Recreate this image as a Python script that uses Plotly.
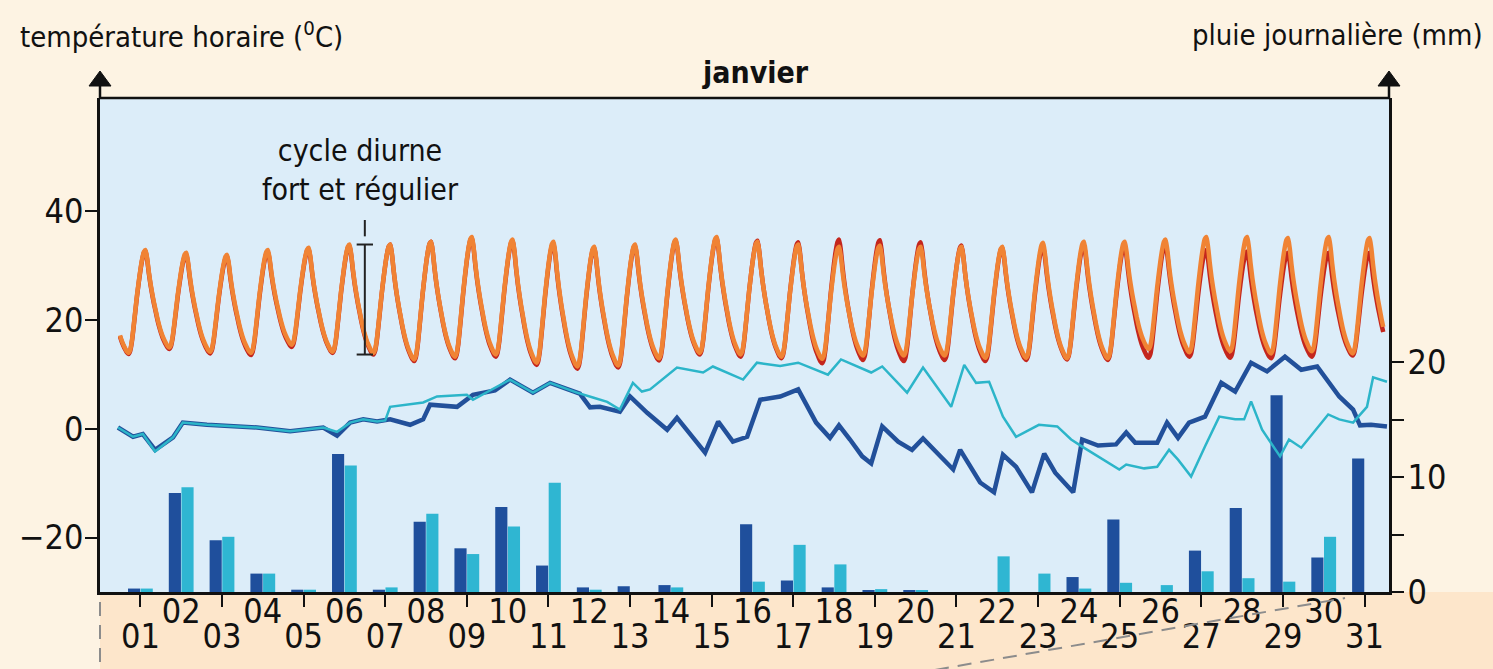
import plotly.graph_objects as go

# ---------------- data ----------------
days = list(range(1, 32))
day_labels = [f"{d:02d}" for d in days]

# daily extremes of the hourly temperature (°C), two stations
tmax_orange = [32.8, 32.3, 31.9, 32.8, 33.2, 33.8, 33.8, 34.3, 35.2, 34.7, 34.3, 33.4, 33.8, 34.7, 35.2, 34.3,
               33.8, 33.4, 33.6, 33.4, 33.4, 33.4, 34.1, 34.3, 34.3, 34.7, 35.2, 35.2, 35.0, 35.2, 35.0]
tmin_orange = [13.9, 14.9, 14.1, 13.9, 15.4, 14.1, 13.9, 12.7, 13.2, 13.6, 12.1, 11.4, 11.6, 12.9, 13.9, 13.6,
               13.2, 12.8, 13.4, 13.4, 13.4, 13.0, 13.0, 12.9, 12.9, 14.6, 14.0, 14.2, 13.8, 14.2, 13.8]
tmax_red = [32.6, 32.0, 31.6, 32.5, 33.0, 33.6, 33.8, 34.3, 35.0, 34.5, 34.0, 33.2, 33.6, 34.5, 35.0, 34.5,
            34.2, 34.7, 34.6, 34.2, 33.6, 33.2, 33.4, 33.6, 33.5, 33.8, 32.8, 32.5, 32.3, 32.3, 32.3]
tmin_red = [13.7, 14.6, 13.8, 13.5, 15.0, 13.9, 13.6, 12.4, 12.9, 13.2, 11.7, 11.0, 11.2, 12.5, 13.6, 13.2,
            12.9, 12.0, 12.6, 12.4, 12.6, 12.4, 12.6, 12.7, 12.6, 13.0, 13.2, 13.0, 12.9, 13.2, 13.4]
# typical shape of one diurnal cycle (fraction of daily range, hour 0..23)
diurnal_profile = [0.17, 0.12, 0.08, 0.045, 0.015, 0.0, 0.03, 0.12, 0.26, 0.41, 0.56, 0.69,
                   0.81, 0.91, 0.98, 1.0, 0.91, 0.77, 0.65, 0.55, 0.46, 0.38, 0.30, 0.23]
TROUGH_H, PEAK_H = 5, 15

# second pair of temperature records: (time in days since 1 Jan 00h, °C)
dark_blue_points = [
    (-0.05, 0.2), (0.32, -1.5), (0.56, -1.0), (0.86, -3.9), (1.30, -1.6), (1.54, 1.1), (2.13, 0.7),
    (3.36, 0.2), (4.17, -0.5), (4.98, 0.2), (5.32, -1.3), (5.64, 1.1), (5.96, 1.7), (6.30, 1.3),
    (6.62, 1.7), (7.11, 0.7), (7.43, 1.7), (7.60, 4.4), (8.26, 4.0), (8.65, 6.2), (9.19, 7.0),
    (9.56, 9.0), (10.12, 6.6), (10.54, 8.4), (11.27, 6.4), (11.52, 3.9), (11.76, 4.0), (12.08, 3.5),
    (12.25, 3.1), (12.50, 5.9), (12.92, 2.9), (13.41, -0.2), (13.65, 2.0), (14.34, -4.4), (14.66, 1.3),
    (15.02, -2.4), (15.37, -1.5), (15.69, 5.3), (16.18, 5.9), (16.62, 7.2), (17.06, 1.1), (17.40, -1.7),
    (17.62, 0.6), (17.89, -2.0), (18.19, -5.1), (18.41, -6.4), (18.68, 0.4), (19.07, -2.4), (19.41, -3.9),
    (19.68, -1.8), (20.42, -7.5), (20.59, -3.9), (21.08, -9.9), (21.42, -11.7), (21.64, -4.8), (21.96, -7.0),
    (22.35, -11.7), (22.65, -4.6), (22.92, -8.1), (23.36, -11.7), (23.58, -2.0), (23.97, -3.1), (24.41, -2.9),
    (24.66, -0.7), (24.88, -2.6), (25.42, -2.6), (25.66, 1.1), (25.93, -1.7), (26.20, 1.1), (26.59, 2.2),
    (26.99, 8.4), (27.33, 6.8), (27.72, 12.1), (28.11, 10.5), (28.55, 13.2), (28.95, 10.8), (29.34, 11.4),
    (29.88, 5.9), (30.22, 3.5), (30.39, 0.6), (30.66, 0.7), (31.05, 0.4)]
cyan_points = [
    (-0.05, 0.2), (0.32, -1.5), (0.56, -1.0), (0.86, -4.2), (1.30, -1.6), (1.54, 1.1), (2.13, 0.7),
    (3.36, 0.2), (4.17, -0.5), (4.98, 0.2), (5.32, -0.6), (5.64, 1.1), (5.96, 1.7), (6.30, 1.3),
    (6.50, 1.5), (6.62, 4.0), (7.43, 4.8), (7.77, 5.9), (8.50, 6.2), (8.65, 5.3), (9.56, 9.0),
    (10.12, 6.6), (10.54, 8.4), (11.20, 6.6), (11.59, 5.7), (11.94, 4.9), (12.25, 3.5), (12.57, 8.4),
    (12.79, 6.8), (12.99, 7.2), (13.65, 11.2), (14.29, 10.3), (14.53, 11.4), (15.27, 9.0), (15.61, 12.1),
    (16.18, 11.5), (16.62, 12.1), (17.35, 9.9), (17.67, 12.7), (18.41, 10.3), (18.68, 11.4), (19.29, 6.6),
    (19.68, 11.2), (20.37, 4.0), (20.69, 11.7), (20.98, 8.4), (21.30, 8.6), (21.64, 2.2), (21.96, -1.5),
    (22.52, 0.7), (22.97, 0.4), (23.31, -2.0), (23.58, -3.3), (24.09, -5.7), (24.49, -7.5), (24.66, -6.6),
    (25.10, -7.3), (25.42, -7.0), (25.71, -3.9), (25.93, -5.7), (26.25, -8.8), (26.59, -3.3), (26.94, 2.2),
    (27.33, 1.7), (27.55, 1.7), (27.72, 5.0), (27.99, -0.2), (28.43, -5.1), (28.65, -2.0), (28.95, -3.5),
    (29.61, 2.6), (29.88, 1.7), (30.22, 1.1), (30.56, 4.0), (30.71, 9.4), (31.05, 8.6)]

# daily rainfall (mm), two stations
rain_dark = [0.3, 8.6, 4.5, 1.6, 0.2, 12.0, 0.2, 6.1, 3.8, 7.4, 2.3, 0.4, 0.5, 0.6, 0.0, 5.9,
             1.0, 0.4, 0.15, 0.15, 0.0, 0.0, 0.0, 1.3, 6.3, 0.0, 3.6, 7.3, 17.1, 3.0, 11.6]
rain_cyan = [0.3, 9.1, 4.8, 1.6, 0.2, 11.0, 0.4, 6.8, 3.3, 5.7, 9.5, 0.2, 0.0, 0.4, 0.0, 0.9,
             4.1, 2.4, 0.25, 0.15, 0.0, 3.1, 1.6, 0.3, 0.8, 0.6, 1.8, 1.2, 0.9, 4.8, 0.0]

left_ticks = [-20, 0, 20, 40]
right_ticks = [0, 10, 20]
right_minor_ticks = [5, 15]

# ---------------- build ----------------
def hourly(tmax, tmin):
    xs, ys = [], []
    n = len(tmax)
    for d in range(n):
        for h, p in enumerate(diurnal_profile):
            if h < TROUGH_H:
                hi = tmax[d - 1] if d > 0 else tmax[d]
                lo = tmin[d]
            elif h <= PEAK_H:
                hi, lo = tmax[d], tmin[d]
            else:
                hi = tmax[d]
                lo = tmin[d + 1] if d + 1 < n else tmin[d]
            xs.append(d + h / 24)
            ys.append(lo + (hi - lo) * p)
    return xs, ys

FONT = "Liberation Sans Narrow, DejaVu Sans Condensed, Arial Narrow, sans-serif"
centers = [d - 0.5 for d in days]
XR = [-0.49, 31.1]
INK = "#111111"

fig = go.Figure()
fig.add_trace(go.Bar(x=centers, y=rain_dark, marker_color="#1f4f9c", marker_line_width=0,
                     xaxis="x", yaxis="y", showlegend=False))
fig.add_trace(go.Bar(x=centers, y=rain_cyan, marker_color="#2fb6d2", marker_line_width=0,
                     xaxis="x", yaxis="y", showlegend=False))

xr, yr = hourly(tmax_red, tmin_red)
xo, yo = hourly(tmax_orange, tmin_orange)
fig.add_trace(go.Scatter(x=xr, y=yr, mode="lines", line=dict(color="#c4261d", width=4.5, shape="spline", smoothing=0.6),
                         xaxis="x2", yaxis="y2", showlegend=False))
fig.add_trace(go.Scatter(x=xo, y=yo, mode="lines", line=dict(color="#f08334", width=4.5, shape="spline", smoothing=0.6),
                         xaxis="x2", yaxis="y2", showlegend=False))
fig.add_trace(go.Scatter(x=[p[0] for p in dark_blue_points], y=[p[1] for p in dark_blue_points],
                         mode="lines", line=dict(color="#22509a", width=4.5),
                         xaxis="x2", yaxis="y2", showlegend=False))
fig.add_trace(go.Scatter(x=[p[0] for p in cyan_points], y=[p[1] for p in cyan_points],
                         mode="lines", line=dict(color="#2cb5c9", width=2.5),
                         xaxis="x2", yaxis="y2", showlegend=False))

even_idx = [i for i, d in enumerate(days) if d % 2 == 0]
odd_idx = [i for i, d in enumerate(days) if d % 2 == 1]
tickfont = dict(family=FONT, size=34, color=INK)

fig.update_layout(
    width=1493, height=669, autosize=False,
    margin=dict(l=100, r=104, t=98, b=77, autoexpand=False),
    paper_bgcolor="#fdf3e3", plot_bgcolor="#dcedf9",
    barmode="group", bargap=0.38, bargroupgap=0.04,
    font=dict(family=FONT, size=30, color=INK),
    xaxis=dict(range=XR, anchor="y", showgrid=False, zeroline=False, automargin=False,
               showline=True, linecolor=INK, linewidth=2.5,
               tickvals=[centers[i] for i in even_idx], ticktext=[day_labels[i] for i in even_idx],
               ticks="", tickfont=tickfont, ticklabelstandoff=-13),
    xaxis2=dict(range=XR, anchor="y2", overlaying="x", side="bottom", showgrid=False, zeroline=False,
                showline=False, automargin=False,
                tickvals=[centers[i] for i in odd_idx], ticktext=[day_labels[i] for i in odd_idx],
                ticks="outside", ticklen=14, tickwidth=1.5, tickcolor=INK,
                tickfont=tickfont, ticklabelstandoff=0),
    yaxis=dict(range=[0, 42.96], side="right", anchor="x", showgrid=False, zeroline=False,
               showline=True, linecolor=INK, linewidth=2.5, automargin=False,
               tickvals=right_ticks, ticks="outside", ticklen=12, tickwidth=2, tickcolor=INK,
               tickfont=tickfont, ticklabelstandoff=-3,
               minor=dict(tickmode="array", tickvals=right_minor_ticks, ticks="outside",
                          ticklen=12, tickwidth=2, tickcolor=INK, showgrid=False)),
    yaxis2=dict(range=[-30, 60.7], side="left", overlaying="y", anchor="x2", showgrid=False,
                zeroline=False, showline=True, linecolor=INK, linewidth=2.5, automargin=False,
                tickvals=left_ticks, ticks="outside", ticklen=12, tickwidth=2, tickcolor=INK,
                tickfont=tickfont, ticklabelstandoff=-5),
)

W, H = 1289.0, 494.0  # plot area in px, for paper-unit conversions
def px(dx):
    return dx / W
def py(dy):
    return dy / H

shapes = []
# peach band below the time axis
shapes.append(dict(type="rect", xref="paper", yref="paper", x0=0, x1=px(1493 - 100),
                   y0=-py(80), y1=0, fillcolor="#fde6cb", line_width=0, layer="below"))
# top frame line
shapes.append(dict(type="line", xref="paper", yref="paper", x0=0, x1=1, y0=1, y1=1,
                   line=dict(color=INK, width=2.5)))
# axis extensions + arrowheads
for xa in (0, 1):
    shapes.append(dict(type="line", xref="paper", yref="paper", x0=xa, x1=xa, y0=1, y1=1 + py(14),
                       line=dict(color=INK, width=2.5)))
    shapes.append(dict(type="path", xref="paper", yref="paper",
                       path=f"M {xa - px(11)},{1 + py(12)} L {xa + px(11)},{1 + py(12)} L {xa},{1 + py(27)} Z",
                       fillcolor=INK, line=dict(color=INK, width=1)))
# dashed connector lines below the chart
shapes.append(dict(type="line", xref="paper", yref="paper", x0=0, x1=0, y0=-py(10), y1=-py(80),
                   line=dict(color="#8c8c8c", width=2, dash="14px,9px")))
shapes.append(dict(type="line", xref="paper", yref="paper", x0=px(935 - 100), y0=-py(78),
                   x1=px(1345 - 100), y1=-py(6),
                   line=dict(color="#8c8c8c", width=2, dash="14px,9px")))
# diurnal amplitude marker
IX = 6.0
for y_ in (13.6, 33.8):
    shapes.append(dict(type="line", xref="x2", yref="y2", x0=IX - 0.2, x1=IX + 0.2, y0=y_, y1=y_,
                       line=dict(color="#222222", width=2)))
shapes.append(dict(type="line", xref="x2", yref="y2", x0=IX, x1=IX, y0=13.6, y1=33.8,
                   line=dict(color="#222222", width=2)))
shapes.append(dict(type="line", xref="x2", yref="y2", x0=IX, x1=IX, y0=35.3, y1=38.3,
                   line=dict(color="#222222", width=2)))
fig.update_layout(shapes=shapes)

ann = []
ann.append(dict(xref="paper", yref="paper", x=px(18 - 100), y=(592 - 35) / H,
                xanchor="left", yanchor="middle", showarrow=False,
                text="température horaire (<sup>0</sup>C)", font=dict(family=FONT, size=29)))
ann.append(dict(xref="paper", yref="paper", x=px(1485 - 100), y=(592 - 35) / H,
                xanchor="right", yanchor="middle", showarrow=False,
                text="pluie journalière (mm)", font=dict(family=FONT, size=29)))
ann.append(dict(xref="paper", yref="paper", x=px(755 - 100), y=(592 - 73) / H,
                xanchor="center", yanchor="middle", showarrow=False,
                text="<b>janvier</b>", font=dict(family=FONT, size=30)))
ann.append(dict(xref="x2", yref="y2", x=5.9, y=47.5, xanchor="center", yanchor="middle",
                showarrow=False, align="center", text="cycle diurne<br>fort et régulier",
                font=dict(family=FONT, size=30)))
fig.update_layout(annotations=ann)

fig.write_html("out.html", config={"displayModeBar": False},
               post_script="document.body.style.margin='0';document.body.style.overflow='hidden';")
